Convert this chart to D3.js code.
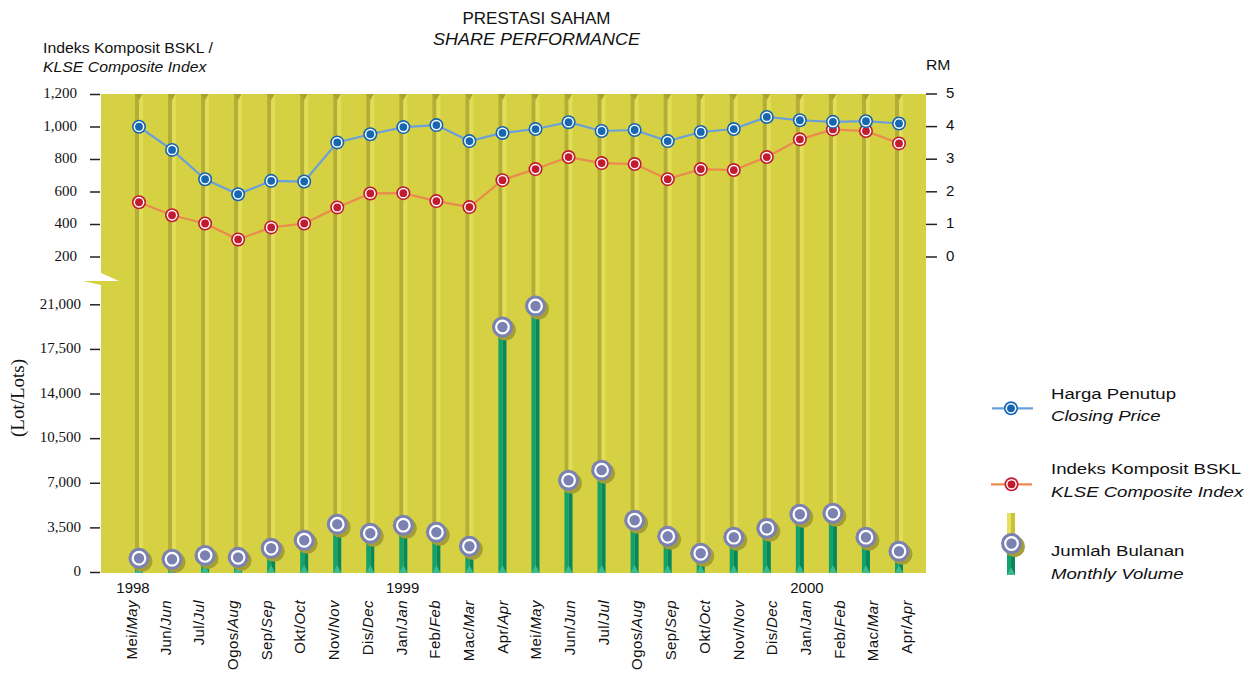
<!DOCTYPE html>
<html>
<head>
<meta charset="utf-8">
<script src="https://cdn.jsdelivr.net/npm/d3@7/dist/d3.min.js"></script>
<style>
	body { margin: 0; background: #fff; }
	text { fill: #111; }
</style>
</head>
<body>
<div id="chart"></div>
<script>
var monthsBM = ["Mei", "Jun", "Jul", "Ogos", "Sep", "Okt", "Nov", "Dis", "Jan", "Feb", "Mac", "Apr",
	"Mei", "Jun", "Jul", "Ogos", "Sep", "Okt", "Nov", "Dis", "Jan", "Feb", "Mac", "Apr"]
var monthsEN = ["May", "Jun", "Jul", "Aug", "Sep", "Oct", "Nov", "Dec", "Jan", "Feb", "Mar", "Apr",
	"May", "Jun", "Jul", "Aug", "Sep", "Oct", "Nov", "Dec", "Jan", "Feb", "Mar", "Apr"]
var yearLabels = ["1998", "1999", "2000"]
var yearAt = [0, 8, 20]

// RM
var closingPrice = [3.98, 3.27, 2.37, 1.91, 2.32, 2.30, 3.50, 3.75, 3.97, 4.03, 3.54, 3.79,
	3.91, 4.12, 3.85, 3.88, 3.54, 3.82, 3.91, 4.28, 4.18, 4.13, 4.15, 4.08]
// KLSE composite index
var klseIndex = [534, 454, 403, 305, 379, 403, 502, 588, 590, 541, 504, 670,
	738, 812, 775, 769, 676, 738, 732, 812, 921, 982, 972, 896]
// lots
var volume = [1080, 1000, 1300, 1150, 1860, 2490, 3750, 3040, 3670, 3120, 2020, 19220,
	20870, 7200, 7990, 4060, 2800, 1470, 2730, 3430, 4530, 4610, 2730, 1630]

var indexTicks = [200, 400, 600, 800, 1000, 1200]
var rmTicks = [0, 1, 2, 3, 4, 5]
var volumeTicks = [0, 3500, 7000, 10500, 14000, 17500, 21000]

var width = 1257,
	height = 673

var plotLeft = 101, plotRight = 926, plotTop = 94, plotBottom = 573

var svg = d3.select('#chart').append('svg')
	.attr('width', width)
	.attr('height', height)

var idx = d3.range(monthsBM.length)

var x = d3.scalePoint().domain(idx).range([139, 899])
var xLabel = d3.scalePoint().domain(idx).range([137, 912])

var yIndex = d3.scaleLinear().domain([200, 1200]).range([256.5, 94])
var yRM = d3.scaleLinear().domain([0, 5]).range([256.5, 93.5])
var yVol = d3.scaleLinear().domain([0, 21000]).range([572, 304.3])

var bg = '#d5d143',
	stripeDark = '#b4ad37',
	stripeLight = '#e2dd56'

// background panel
svg.append('rect')
	.attr('x', plotLeft).attr('y', plotTop)
	.attr('width', plotRight - plotLeft).attr('height', plotBottom - plotTop)
	.attr('fill', bg)

// axis break
svg.append('path')
	.attr('d', 'M101,273 L119,281 L101,281 Z')
	.attr('fill', '#fff')
svg.append('path')
	.attr('d', 'M83,281 L101,281 L101,285 Z')
	.attr('fill', bg)

// stripes
var cols = svg.append('g').selectAll('g').data(idx).enter().append('g')
cols.append('rect')
	.attr('x', function (d) { return x(d) - 4 })
	.attr('y', plotTop).attr('width', 4).attr('height', plotBottom - plotTop)
	.attr('fill', stripeDark)
cols.append('rect')
	.attr('x', function (d) { return x(d) })
	.attr('y', plotTop).attr('width', 4).attr('height', plotBottom - plotTop)
	.attr('fill', stripeLight)
cols.append('path')
	.attr('d', function (d) {
		var c = x(d)
		return 'M' + (c - 4.5) + ',' + plotTop + 'L' + (c + 3.5) + ',' + plotTop + 'L' + c + ',' + (plotTop + 6) + 'Z'
	})
	.attr('fill', '#aaa333')

// volume bars
var vol = svg.append('g').selectAll('g').data(idx).enter().append('g')
vol.append('rect')
	.attr('x', function (d) { return x(d) - 4 })
	.attr('y', function (d) { return yVol(volume[d]) })
	.attr('width', 4)
	.attr('height', function (d) { return plotBottom - yVol(volume[d]) })
	.attr('fill', '#12a36c')
vol.append('rect')
	.attr('x', function (d) { return x(d) })
	.attr('y', function (d) { return yVol(volume[d]) })
	.attr('width', 4)
	.attr('height', function (d) { return plotBottom - yVol(volume[d]) })
	.attr('fill', '#07885a')
vol.append('path')
	.attr('d', function (d) {
		var c = x(d)
		return 'M' + (c - 4) + ',' + plotBottom + 'L' + (c + 4) + ',' + plotBottom + 'L' + c + ',' + (plotBottom - 8) + 'Z'
	})
	.attr('fill', '#3fb98e')

function volMarker(g, cx, cy) {
	g.append('circle').attr('cx', cx + 3).attr('cy', cy + 3).attr('r', 10.5).attr('fill', '#a49e35')
	g.append('circle').attr('cx', cx).attr('cy', cy).attr('r', 10.5).attr('fill', '#7b81b1')
	g.append('circle').attr('cx', cx).attr('cy', cy).attr('r', 6.3)
		.attr('fill', '#7b81b1').attr('stroke', '#fff').attr('stroke-width', 2.2)
}
idx.forEach(function (d) {
	volMarker(svg.append('g'), x(d), yVol(volume[d]))
})

// lines
var indexLine = d3.line()
	.x(function (d) { return x(d) })
	.y(function (d) { return yIndex(klseIndex[d]) })
var priceLine = d3.line()
	.x(function (d) { return x(d) })
	.y(function (d) { return yRM(closingPrice[d]) })

svg.append('path').datum(idx)
	.attr('d', indexLine)
	.attr('fill', 'none').attr('stroke', '#eb8a4e').attr('stroke-width', 2.2)
svg.append('path').datum(idx)
	.attr('d', priceLine)
	.attr('fill', 'none').attr('stroke', '#6b9fd9').attr('stroke-width', 2.2)

function dotMarker(g, cx, cy, color) {
	g.append('circle').attr('cx', cx).attr('cy', cy).attr('r', 7).attr('fill', color)
	g.append('circle').attr('cx', cx).attr('cy', cy).attr('r', 5.4).attr('fill', '#fff')
	g.append('circle').attr('cx', cx).attr('cy', cy).attr('r', 3.9).attr('fill', color)
}
idx.forEach(function (d) {
	dotMarker(svg.append('g'), x(d), yIndex(klseIndex[d]), '#c21a2e')
})
idx.forEach(function (d) {
	dotMarker(svg.append('g'), x(d), yRM(closingPrice[d]), '#1666b0')
})

// axes
function styleAxis(g, font, size) {
	g.attr('font-family', font).attr('font-size', size)
	g.select('.domain').remove()
	g.selectAll('.tick line').attr('stroke', '#222').attr('stroke-width', 1.5)
	g.selectAll('.tick text')
		.attr('font-family', font)
		.attr('font-size', size)
		.attr('fill', '#111')
		.attr('dy', '0.25em')
}

var serif = '"Liberation Serif", "Times New Roman", serif'
var sans = '"Liberation Sans", Arial, sans-serif'

var axIndex = svg.append('g')
	.attr('transform', 'translate(' + (plotLeft - 1) + ',0)')
	.call(d3.axisLeft(yIndex).tickValues(indexTicks).tickFormat(d3.format(',')).tickSize(10).tickPadding(13))
styleAxis(axIndex, serif, 15)

var axVol = svg.append('g')
	.attr('transform', 'translate(' + (plotLeft - 1) + ',0)')
	.call(d3.axisLeft(yVol).tickValues(volumeTicks).tickFormat(d3.format(',')).tickSize(10).tickPadding(9))
styleAxis(axVol, serif, 15)

var axRM = svg.append('g')
	.attr('transform', 'translate(' + plotRight + ',0)')
	.call(d3.axisRight(yRM).tickValues(rmTicks).tickFormat(d3.format('d')).tickSize(11).tickPadding(9))
styleAxis(axRM, sans, 15)

// helper for horizontally stretched text
function label(x0, y0, sx, size, parts, anchor) {
	var t = svg.append('text')
		.attr('transform', 'translate(' + x0 + ',' + y0 + ') scale(' + sx + ',1)')
		.attr('font-family', sans)
		.attr('font-size', size)
		.attr('text-anchor', anchor || 'start')
	parts.forEach(function (p) {
		t.append('tspan').attr('font-style', p[1] ? 'italic' : 'normal').text(p[0])
	})
	return t
}

// titles
label(536.5, 24, 1, 17, [['PRESTASI SAHAM']], 'middle')
label(536.5, 45, 1.06, 17, [['SHARE PERFORMANCE', true]], 'middle')
label(43, 52.5, 1.13, 14, [['Indeks Komposit BSKL /']])
label(43, 71.5, 1.13, 14, [['KLSE Composite Index', true]])
label(926, 70, 1.05, 15, [['RM']])

svg.append('text')
	.attr('transform', 'translate(24,398) rotate(-90)')
	.attr('text-anchor', 'middle')
	.attr('font-family', serif)
	.attr('font-size', 19)
	.text('(Lot/Lots)')

// x labels
var xl = svg.append('g').selectAll('text').data(idx).enter().append('text')
	.attr('transform', function (d) { return 'translate(' + xLabel(d) + ',600) rotate(-90)' })
	.attr('text-anchor', 'end')
	.attr('font-family', sans)
	.attr('font-size', 15)
	.attr('letter-spacing', 0.4)
xl.append('tspan').text(function (d) { return monthsBM[d] + '/' })
xl.append('tspan').attr('font-style', 'italic').text(function (d) { return monthsEN[d] })

svg.append('g').selectAll('text').data(yearLabels).enter().append('text')
	.attr('x', function (d, i) { return xLabel(yearAt[i]) - 4 })
	.attr('y', 593)
	.attr('text-anchor', 'middle')
	.attr('font-family', sans)
	.attr('font-size', 15)
	.text(function (d) { return d })

// legend
var lg = svg.append('g')
lg.append('line').attr('x1', 992).attr('x2', 1033).attr('y1', 408.3).attr('y2', 408.3)
	.attr('stroke', '#6b9fd9').attr('stroke-width', 2.2)
dotMarker(lg, 1011, 408.3, '#1666b0')
lg.append('line').attr('x1', 991).attr('x2', 1032).attr('y1', 484.3).attr('y2', 484.3)
	.attr('stroke', '#eb8a4e').attr('stroke-width', 2.2)
dotMarker(lg, 1011.5, 484.3, '#c21a2e')

lg.append('rect').attr('x', 1007).attr('y', 513).attr('width', 4).attr('height', 35).attr('fill', '#e6e25c')
lg.append('rect').attr('x', 1011).attr('y', 513).attr('width', 4).attr('height', 35).attr('fill', '#c9c33a')
lg.append('rect').attr('x', 1007).attr('y', 545).attr('width', 4).attr('height', 30).attr('fill', '#12a36c')
lg.append('rect').attr('x', 1011).attr('y', 545).attr('width', 4).attr('height', 30).attr('fill', '#07885a')
lg.append('path').attr('d', 'M1007,575 L1015,575 L1011,567 Z').attr('fill', '#3fb98e')
volMarker(lg, 1011.5, 543.5)

label(1051, 398.5, 1.2, 15.5, [['Harga Penutup']])
label(1051, 420.7, 1.2, 15.5, [['Closing Price', true]])
label(1051, 474.3, 1.2, 15.5, [['Indeks Komposit BSKL']])
label(1051, 497.3, 1.2, 15.5, [['KLSE Composite Index', true]])
label(1051, 556, 1.2, 15.5, [['Jumlah Bulanan']])
label(1051, 578.5, 1.2, 15.5, [['Monthly Volume', true]])
</script>
</body>
</html>
